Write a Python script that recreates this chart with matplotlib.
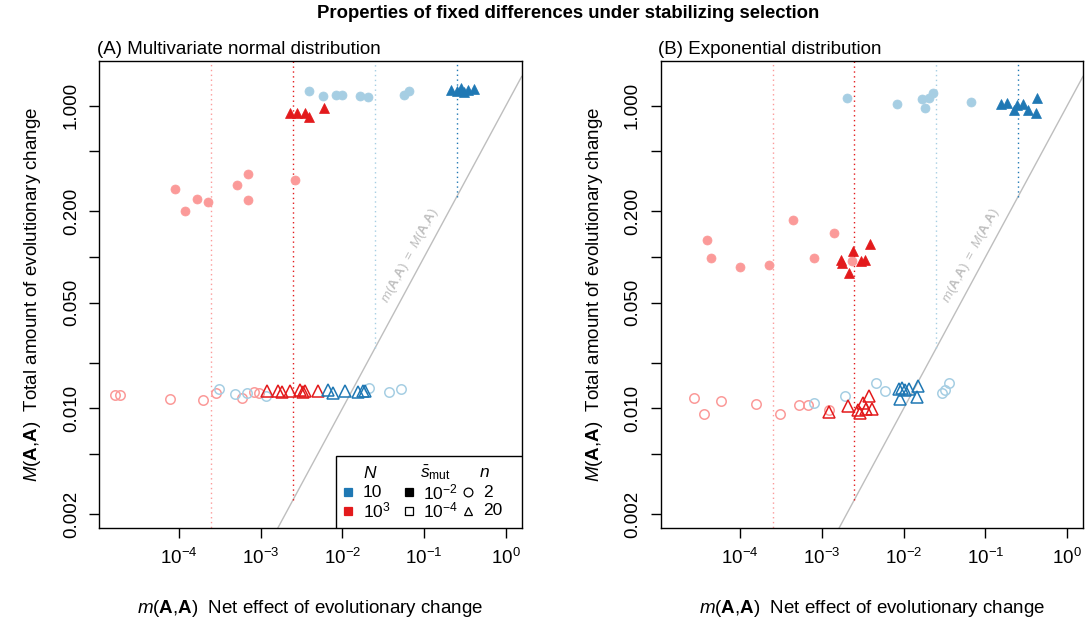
import matplotlib
matplotlib.use("Agg")
import matplotlib.pyplot as plt
from matplotlib.patches import Rectangle
from matplotlib.lines import Line2D

plt.rcParams['font.family'] = ['Liberation Sans', 'DejaVu Sans']
plt.rcParams['mathtext.fontset'] = 'custom'
plt.rcParams['mathtext.rm'] = 'Liberation Sans'
plt.rcParams['mathtext.it'] = 'Liberation Sans:italic'
plt.rcParams['mathtext.bf'] = 'Liberation Sans:bold'

# ---------------- data ----------------
# colours: N=10 (blue), N=10^3 (red); light = n=2, dark = n=20
LIGHT_BLUE, DARK_BLUE, PINK, RED = '#A6CEE3', '#1F78B4', '#FB9A99', '#E31A1C'

expected_m = [2.5e-4, 2.5e-3, 2.5e-2, 0.25]
expected_col = [PINK, RED, LIGHT_BLUE, DARK_BLUE]

# Panel A: multivariate normal
A_N10_n2_s2_x = [3.94e-3, 5.85e-3, 8.36e-3, 9.79e-3, 1.66e-2, 2.07e-2, 5.71e-2, 6.52e-2]
A_N10_n2_s2_y = [1.253, 1.156, 1.178, 1.178, 1.161, 1.143, 1.178, 1.242]
A_N10_n20_s2_x = [0.213, 0.252, 0.282, 0.307, 0.343, 0.406]
A_N10_n20_s2_y = [1.26, 1.25, 1.31, 1.23, 1.26, 1.28]
A_N1e3_n20_s2_x = [2.29e-3, 2.81e-3, 3.49e-3, 3.94e-3, 5.96e-3]
A_N1e3_n20_s2_y = [0.889, 0.897, 0.889, 0.843, 0.959]
A_N1e3_n2_s2_x = [8.91e-5, 1.20e-4, 1.68e-4, 2.30e-4, 5.09e-4, 6.95e-4, 6.95e-4, 2.64e-3]
A_N1e3_n2_s2_y = [0.282, 0.200, 0.242, 0.231, 0.300, 0.356, 0.238, 0.321]
A_N1e3_n2_s4_x = [1.66e-5, 1.91e-5, 7.80e-5, 1.99e-4, 2.82e-4, 5.87e-4, 8.38e-4, 9.64e-4]
A_N1e3_n2_s4_y = [0.01227, 0.01227, 0.01156, 0.01138, 0.01271, 0.01178, 0.01291, 0.01259]
A_N10_n2_s4_x = [3.10e-4, 4.86e-4, 6.76e-4, 1.15e-3, 2.13e-2, 3.68e-2, 5.16e-2]
A_N10_n2_s4_y = [0.01340, 0.01242, 0.01259, 0.01211, 0.01358, 0.01279, 0.01346]
A_N1e3_n20_s4_x = [1.19e-3, 1.64e-3, 1.81e-3, 2.29e-3, 3.03e-3, 3.33e-3, 3.49e-3, 5.07e-3]
A_N1e3_n20_s4_y = [0.0130, 0.0131, 0.0128, 0.0130, 0.0132, 0.0129, 0.0131, 0.0130]
A_N10_n20_s4_x = [6.61e-3, 7.74e-3, 1.08e-2, 1.56e-2, 1.80e-2, 1.89e-2]
A_N10_n20_s4_y = [0.0132, 0.0127, 0.0131, 0.0128, 0.0131, 0.0130]

# Panel B: exponential
B_N10_n2_s2_x = [2.04e-3, 8.41e-3, 1.69e-2, 1.82e-2, 2.07e-2, 2.31e-2, 6.61e-2]
B_N10_n2_s2_y = [1.117, 1.028, 1.109, 0.966, 1.117, 1.211, 1.059]
B_N10_n20_s2_x = [0.157, 0.186, 0.224, 0.240, 0.289, 0.333, 0.410, 0.429]
B_N10_n20_s2_y = [1.023, 1.042, 0.933, 1.007, 1.023, 0.933, 0.895, 1.117]
B_N1e3_n2_s2_x = [3.92e-5, 4.39e-5, 9.95e-5, 2.28e-4, 4.40e-4, 7.94e-4, 1.40e-3, 2.34e-3]
B_N1e3_n2_s2_y = [0.1294, 0.0989, 0.0859, 0.0889, 0.1754, 0.0989, 0.1439, 0.0946]
B_N1e3_n20_s2_x = [1.72e-3, 1.77e-3, 2.17e-3, 2.43e-3, 3.02e-3, 3.38e-3, 3.90e-3]
B_N1e3_n20_s2_y = [0.0955, 0.0908, 0.0780, 0.1102, 0.0942, 0.0955, 0.1219]
B_N1e3_n2_s4_x = [2.74e-5, 3.63e-5, 5.82e-5, 1.56e-4, 3.08e-4, 5.30e-4, 6.70e-4, 1.24e-3]
B_N1e3_n2_s4_y = [0.01167, 0.00920, 0.01114, 0.01072, 0.00920, 0.01054, 0.01054, 0.00977]
B_N10_n2_s4_x = [7.94e-4, 1.92e-3, 4.53e-3, 5.96e-3, 2.97e-2, 3.17e-2, 3.55e-2]
B_N10_n2_s4_y = [0.01081, 0.01213, 0.01466, 0.01303, 0.01259, 0.01324, 0.01466]
B_N1e3_n20_s4_x = [1.21e-3, 2.07e-3, 2.75e-3, 2.96e-3, 3.23e-3, 3.48e-3, 3.82e-3, 4.12e-3]
B_N1e3_n20_s4_y = [0.00953, 0.01042, 0.00977, 0.00938, 0.01081, 0.00986, 0.01208, 0.00986]
B_N10_n20_s4_x = [8.73e-3, 9.62e-3, 1.05e-2, 1.16e-2, 9.08e-3, 1.49e-2, 1.47e-2]
B_N10_n20_s4_y = [0.01340, 0.01358, 0.01324, 0.01340, 0.01151, 0.01409, 0.01197]

x_ticks = [1e-4, 1e-3, 1e-2, 1e-1, 1e0]
x_tick_labels = [r'$10^{-4}$', r'$10^{-3}$', r'$10^{-2}$', r'$10^{-1}$', r'$10^{0}$']
y_ticks = [1.0, 0.5, 0.2, 0.1, 0.05, 0.02, 0.01, 0.005, 0.002]
y_tick_labels = ['1.000', '', '0.200', '', '0.050', '', '0.010', '', '0.002']

panel_titles = ['(A) Multivariate normal distribution', '(B) Exponential distribution']
suptitle = 'Properties of fixed differences under stabilizing selection'
xlabel = r'$\mathit{m}(\mathbf{A}{,}\mathbf{A})$  Net effect of evolutionary change'
ylabel = r'$\mathit{M}(\mathbf{A}{,}\mathbf{A})$  Total amount of evolutionary change'
diag_label = r'$\mathit{m}(\mathbf{A}{,}\mathbf{A})\ =\ \mathit{M}(\mathbf{A}{,}\mathbf{A})$'

XLIM = (10 ** -4.972, 10 ** 0.192)
YLIM = (10 ** -2.789, 10 ** 0.294)

FS = 13.5

# ---------------- figure ----------------
fig = plt.figure(figsize=(10.85, 6.19), dpi=100)
axA = fig.add_axes([0.0915, 0.1470, 0.3893, 0.7544])
axB = fig.add_axes([0.6088, 0.1470, 0.3893, 0.7544])

def series(ax, x, y, col, marker, filled):
    if marker == 'o':
        ms = 6.5 if filled else 6.8
    else:
        ms = 7.8 if filled else 8.4
    if filled:
        ax.plot(x, y, linestyle='none', marker=marker, ms=ms, mfc=col, mec=col, mew=0.5, zorder=3)
    else:
        ax.plot(x, y, linestyle='none', marker=marker, ms=ms, mfc='none', mec=col, mew=1.1, zorder=3)

def setup(ax, title):
    ax.set_xscale('log')
    ax.set_yscale('log')
    ax.set_xlim(*XLIM)
    ax.set_ylim(*YLIM)
    ax.minorticks_off()
    ax.set_xticks(x_ticks)
    ax.set_xticklabels(x_tick_labels, fontsize=FS)
    ax.set_yticks(y_ticks)
    ax.set_yticklabels(y_tick_labels, fontsize=FS, rotation=90, va='center')
    ax.tick_params(direction='out', length=7, width=1, pad=7)
    for s in ax.spines.values():
        s.set_linewidth(1)
    ax.set_xlabel(xlabel, fontsize=FS, labelpad=22)
    ax.set_ylabel(ylabel, fontsize=FS, labelpad=14)
    ax.text(-0.005, 1.006, title, transform=ax.transAxes, ha='left', va='bottom', fontsize=FS)
    # reference lines
    ax.axline((1e-3, 1e-3), (1.0, 1.0), color='#BEBEBE', lw=1, zorder=1)
    for v, c in zip(expected_m, expected_col):
        ax.vlines(v, v, YLIM[1], colors=c, linestyles=(0, (1, 2.5)), lw=1.0, zorder=1)
    ax.text(10 ** -1.17, 10 ** -0.99, diag_label, color='#BEBEBE', fontsize=9.5,
            rotation=61.6, ha='center', va='center', rotation_mode='anchor')

setup(axA, panel_titles[0])
setup(axB, panel_titles[1])

# Panel A points
series(axA, A_N1e3_n2_s4_x, A_N1e3_n2_s4_y, PINK, 'o', False)
series(axA, A_N10_n2_s4_x, A_N10_n2_s4_y, LIGHT_BLUE, 'o', False)
series(axA, A_N1e3_n20_s4_x, A_N1e3_n20_s4_y, RED, '^', False)
series(axA, A_N10_n20_s4_x, A_N10_n20_s4_y, DARK_BLUE, '^', False)
series(axA, A_N1e3_n2_s2_x, A_N1e3_n2_s2_y, PINK, 'o', True)
series(axA, A_N10_n2_s2_x, A_N10_n2_s2_y, LIGHT_BLUE, 'o', True)
series(axA, A_N1e3_n20_s2_x, A_N1e3_n20_s2_y, RED, '^', True)
series(axA, A_N10_n20_s2_x, A_N10_n20_s2_y, DARK_BLUE, '^', True)

# Panel B points
series(axB, B_N1e3_n2_s4_x, B_N1e3_n2_s4_y, PINK, 'o', False)
series(axB, B_N10_n2_s4_x, B_N10_n2_s4_y, LIGHT_BLUE, 'o', False)
series(axB, B_N1e3_n20_s4_x, B_N1e3_n20_s4_y, RED, '^', False)
series(axB, B_N10_n20_s4_x, B_N10_n20_s4_y, DARK_BLUE, '^', False)
series(axB, B_N1e3_n2_s2_x, B_N1e3_n2_s2_y, PINK, 'o', True)
series(axB, B_N10_n2_s2_x, B_N10_n2_s2_y, LIGHT_BLUE, 'o', True)
series(axB, B_N1e3_n20_s2_x, B_N1e3_n20_s2_y, RED, '^', True)
series(axB, B_N10_n20_s2_x, B_N10_n20_s2_y, DARK_BLUE, '^', True)

# ---------------- legend (panel A) ----------------
T = axA.transAxes
axA.add_patch(Rectangle((0.560, 0.0), 0.44, 0.155, transform=T, facecolor='white',
                        edgecolor='black', lw=1, zorder=5))
fs = 12.5
hy, r1, r2 = 0.118, 0.0764, 0.037
axA.text(0.641, hy, r'$\mathit{N}$', transform=T, ha='center', va='center', fontsize=fs, zorder=6)
axA.text(0.797, hy, r'$\bar{\mathit{s}}_{\mathrm{mut}}$', transform=T, ha='center', va='center', fontsize=fs, zorder=6)
axA.text(0.913, hy, r'$\mathit{n}$', transform=T, ha='center', va='center', fontsize=fs, zorder=6)
legend_rows = [
    (0.5895, r1, 's', DARK_BLUE, DARK_BLUE, 0.624, '10'),
    (0.5895, r2, 's', RED, RED, 0.624, r'$10^{3}$'),
    (0.734, r1, 's', 'black', 'black', 0.767, r'$10^{-2}$'),
    (0.734, r2, 's', 'white', 'black', 0.767, r'$10^{-4}$'),
    (0.8736, r1, 'o', 'white', 'black', 0.909, '2'),
    (0.8736, r2, '^', 'white', 'black', 0.909, '20'),
]
for mx, my, mk, fc, ec, tx, lab in legend_rows:
    axA.add_line(Line2D([mx], [my], transform=T, marker=mk, ms=5.5 if mk == 's' else 6.3,
                        mfc=fc, mec=ec, mew=0.9, linestyle='none', zorder=6))
    axA.text(tx, my, lab, transform=T, ha='left', va='center', fontsize=fs, zorder=6)

fig.text(0.524, 0.978, suptitle, ha='center', va='center', fontsize=13.3, fontweight='bold')

fig.savefig('out.png', dpi=100)
